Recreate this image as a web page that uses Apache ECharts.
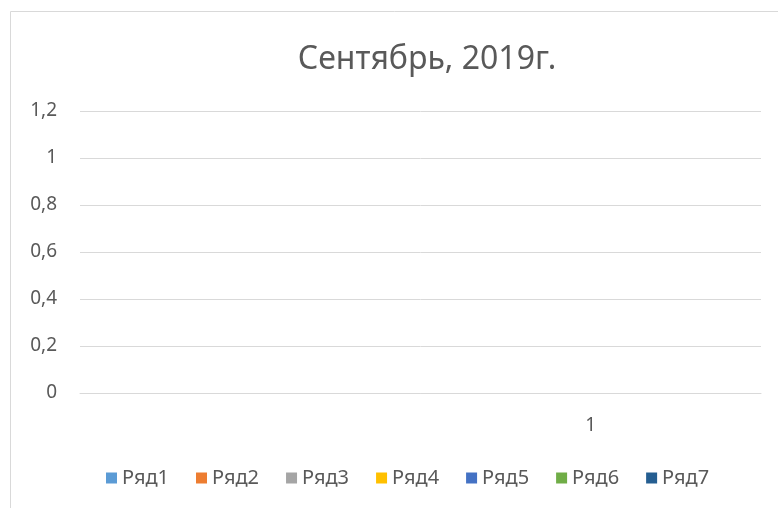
<!DOCTYPE html>
<html>
<head>
<meta charset="utf-8">
<script src="https://cdn.jsdelivr.net/npm/echarts@6/dist/echarts.min.js"></script>
<style>
  html, body { margin: 0; padding: 0; background: #fff; }
  #chart { width: 778px; height: 508px; }
</style>
</head>
<body>
<div id="chart"></div>
<script>
  // категории оси X (первая пустая, подпись только у второй)
  var categories = ['', '1']
  var seriesNames = ['Ряд1', 'Ряд2', 'Ряд3', 'Ряд4', 'Ряд5', 'Ряд6', 'Ряд7']
  // значений в рядах нет - диаграмма пустая
  var row1 = [null, null]
  var row2 = [null, null]
  var row3 = [null, null]
  var row4 = [null, null]
  var row5 = [null, null]
  var row6 = [null, null]
  var row7 = [null, null]
  var colors = ['#5B9BD5', '#ED7D31', '#A5A5A5', '#FFC000', '#4472C4', '#70AD47', '#255E91']

  var rows = [row1, row2, row3, row4, row5, row6, row7]
  var font = 'Noto Sans'
  var txt = '#595959'

  var chart = echarts.init(document.getElementById('chart'))
  var series = []
  for (var i = 0; i < rows.length; i++) {
    series.push({ name: seriesNames[i], type: 'bar', data: rows[i] })
  }

  var option = {
    animation: false,
    color: colors,
    title: {
      text: 'Сентябрь, 2019г.',
      left: 422,
      textAlign: 'center',
      top: 39,
      textStyle: { fontFamily: font, fontSize: 32, fontWeight: 'normal', color: txt }
    },
    graphic: [{
      type: 'rect',
      shape: { x: 10.5, y: 11.5, width: 900, height: 700 },
      style: { fill: 'none', stroke: '#d9d9d9', lineWidth: 1 },
      silent: true
    }],
    legend: {
      data: seriesNames,
      top: 463,
      left: 101,
      icon: 'rect',
      itemWidth: 11,
      itemHeight: 11,
      itemGap: 27,
      textStyle: { fontFamily: font, fontSize: 20, color: txt }
    },
    grid: { left: 80, right: 17, top: 111, bottom: 115 },
    xAxis: {
      type: 'category',
      data: categories,
      axisLine: { lineStyle: { color: '#d9d9d9' } },
      axisTick: { show: false },
      axisLabel: { margin: 23, fontFamily: font, fontSize: 19, color: txt }
    },
    yAxis: {
      type: 'value',
      min: 0,
      max: 1.2,
      interval: 0.2,
      axisLine: { show: false },
      axisTick: { show: false },
      splitLine: { lineStyle: { color: '#d9d9d9' } },
      axisLabel: {
        margin: 23,
        fontFamily: font,
        fontSize: 19,
        color: txt,
        formatter: function (v) { return String(+v.toFixed(1)).replace('.', ',') }
      }
    },
    series: series
  }
  chart.setOption(option)
</script>
</body>
</html>
